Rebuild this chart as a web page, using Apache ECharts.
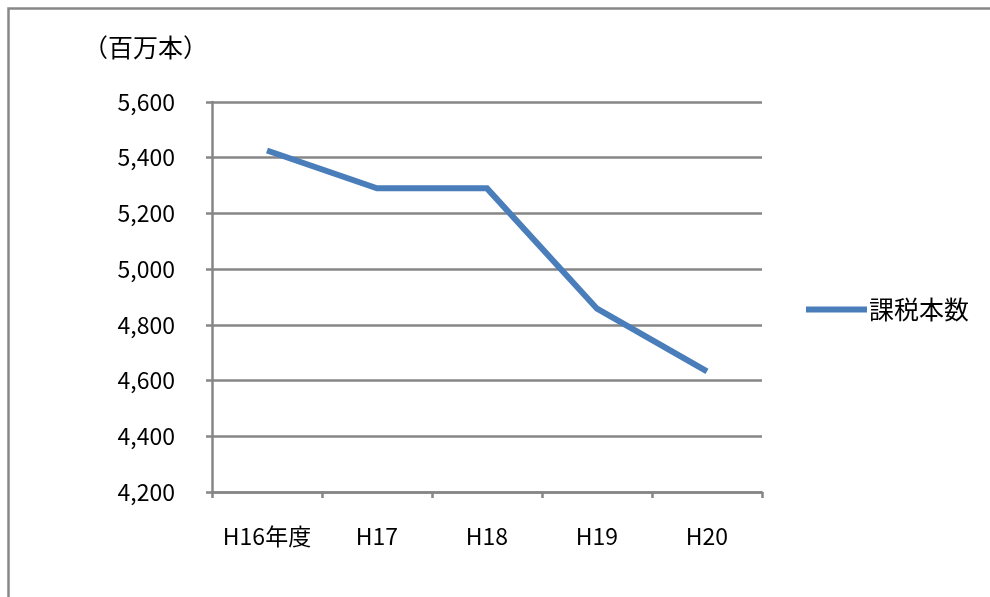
<!DOCTYPE html>
<html>
<head>
<meta charset="utf-8">
<script src="https://cdn.jsdelivr.net/npm/echarts@6/dist/echarts.min.js"></script>
<style>
html,body{margin:0;padding:0;background:#fff;}
#c{width:990px;height:597px;}
</style>
</head>
<body>
<div id="c"></div>
<script>
const categories = ['H16年度', 'H17', 'H18', 'H19', 'H20'];
const seriesName = '課税本数';
const values = [5426, 5290, 5290, 4858, 4633];
const unitLabel = '（百万本）';
const yMin = 4200, yMax = 5600, yStep = 200;

const FONT = '"Noto Sans CJK JP", "Noto Sans", sans-serif';
const chart = echarts.init(document.getElementById('c'));
chart.setOption({
  animation: false,
  backgroundColor: '#fff',
  graphic: [
    { type: 'rect', shape: { x: 8.5, y: 8.5, width: 1200, height: 800 },
      style: { fill: 'none', stroke: '#888888', lineWidth: 2.5 } },
    { type: 'text', left: 83, top: 35,
      style: { text: unitLabel, font: '25px ' + FONT, fill: '#000' } }
  ],
  legend: {
    data: [{ name: seriesName, icon: 'rect' }],
    left: 801, top: 292,
    itemWidth: 61, itemHeight: 6, itemGap: 4,
    textStyle: { fontSize: 25, fontFamily: FONT, color: '#000', padding: [0, 0, 0, -3] }
  },
  grid: { left: 212, right: 228, top: 102, bottom: 105 },
  xAxis: {
    type: 'category', data: categories, boundaryGap: true,
    axisLine: { lineStyle: { color: '#868686', width: 2.5 } },
    axisTick: { show: true, length: 6, interval: 0, lineStyle: { color: '#868686', width: 2.5 } },
    axisLabel: { interval: 0, hideOverlap: false, margin: 33, fontSize: 23, fontFamily: FONT, color: '#000' }
  },
  yAxis: {
    type: 'value', min: yMin, max: yMax, interval: yStep,
    axisLine: { show: true, lineStyle: { color: '#868686', width: 2.5 } },
    axisTick: { show: true, length: 6, lineStyle: { color: '#868686', width: 2.5 } },
    splitLine: { lineStyle: { color: '#868686', width: 2.5 } },
    axisLabel: {
      margin: 37, fontSize: 23, fontFamily: FONT, color: '#000',
      formatter: v => v.toLocaleString('en-US')
    }
  },
  series: [{
    name: seriesName, type: 'line', data: values,
    symbol: 'none',
    lineStyle: { color: '#4A7EBB', width: 6, cap: 'butt', join: 'miter' },
    itemStyle: { color: '#4A7EBB' }
  }]
});
</script>
</body>
</html>
